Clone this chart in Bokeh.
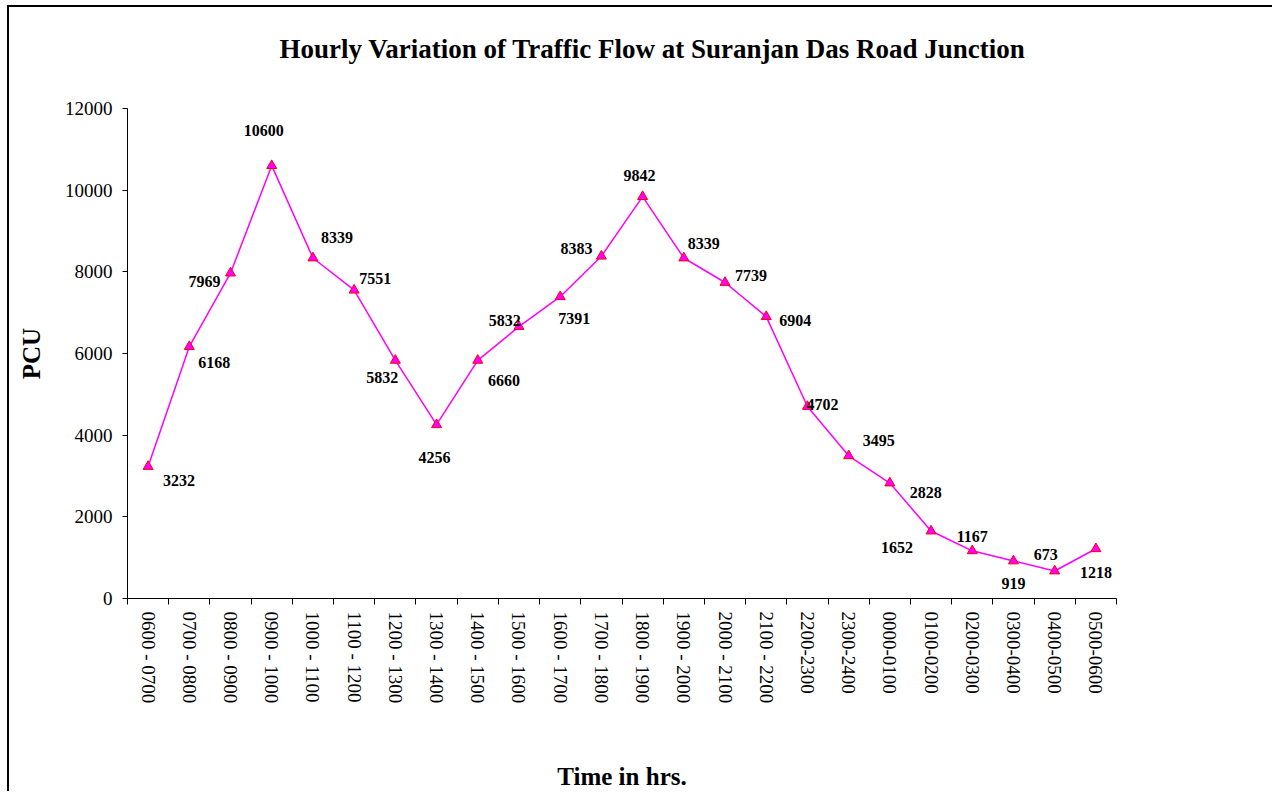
from bokeh.plotting import figure
from bokeh.models import Range1d, FixedTicker, ColumnDataSource, NumeralTickFormatter, Title
from bokeh.core.properties import value
from bokeh.embed import file_html
from bokeh.resources import INLINE
import math

# ---- data ----
categories = ["0600 - 0700", "0700 - 0800", "0800 - 0900", "0900 - 1000", "1000 - 1100",
              "1100 - 1200", "1200 - 1300", "1300 - 1400", "1400 - 1500", "1500 - 1600",
              "1600 - 1700", "1700 - 1800", "1800 - 1900", "1900 - 2000", "2000 - 2100",
              "2100 - 2200", "2200-2300", "2300-2400", "0000-0100", "0100-0200",
              "0200-0300", "0300-0400", "0400-0500", "0500-0600"]
pcu = [3232, 6168, 7969, 10600, 8339, 7551, 5832, 4256, 5832, 6660, 7391, 8383,
       9842, 8339, 7739, 6904, 4702, 3495, 2828, 1652, 1167, 919, 673, 1218]
y_ticks = [0, 2000, 4000, 6000, 8000, 10000, 12000]
title_text = "Hourly Variation of Traffic Flow at Suranjan Das Road Junction"

# label placement (screen px offsets from each point)
label_dx = [31, 25, -26, -8, 24, 21, -13, -2, 27, -15, 14, -25,
            -3, 20, 26, 29, 15, 30, 36, -34, 0, 0, -9, 0]
label_dy = [14, 16, 8, -35, -20, -12, 17, 33, -40, 54, 22, -8,
            -21, -14, -7, 4, -2, -15, 9, 16, -14, 23, -17, 24]

n = len(categories)
xs = [i + 0.5 for i in range(n)]

src = ColumnDataSource(dict(x=xs, y=pcu, txt=[str(v) for v in pcu], dx=label_dx, dy=label_dy))

SERIF = "Liberation Serif"

p = figure(width=1265, height=786, output_backend="svg", toolbar_location=None,
           x_range=Range1d(0, n), y_range=Range1d(0, 12000),
           min_border_left=118, min_border_right=158, min_border_top=101, min_border_bottom=194)
p.styles = {"border-left": "2px solid black", "border-top": "2px solid black",
            "margin-left": "7px", "margin-top": "5px"}

p.xgrid.visible = False
p.ygrid.visible = False
p.outline_line_color = None
p.background_fill_color = "white"
p.border_fill_color = "white"

# blank spacer title next to the frame, then the main title above it
spacer = Title(text=" ", text_font_size="10px", standoff=32)
main_title = Title(text=title_text, text_font=SERIF, text_font_style="bold",
                   text_font_size="27px", text_color="black", align="left",
                   offset=152, standoff=0)
p.add_layout(spacer, "above")
p.add_layout(main_title, "above")

# x axis
xa = p.xaxis[0]
xa.ticker = FixedTicker(ticks=xs, minor_ticks=list(range(n + 1)))
xa.major_label_overrides = {x: c for x, c in zip(xs, categories)}
xa.major_label_orientation = -math.pi / 2
xa.major_tick_line_color = None
xa.major_tick_out = 6
xa.major_tick_in = 0
xa.minor_tick_line_color = "black"
xa.minor_tick_out = 6
xa.minor_tick_in = 0
xa.major_label_standoff = 7
xa.major_label_text_font = SERIF
xa.major_label_text_font_size = "19px"
xa.major_label_text_color = "black"
xa.axis_line_color = "black"
xa.axis_label = "Time in hrs."
xa.axis_label_text_font = SERIF
xa.axis_label_text_font_style = "bold"
xa.axis_label_text_font_size = "25px"
xa.axis_label_text_color = "black"
xa.axis_label_standoff = 57

# y axis
ya = p.yaxis[0]
ya.ticker = FixedTicker(ticks=y_ticks)
ya.formatter = NumeralTickFormatter(format="0")
ya.minor_tick_line_color = None
ya.major_tick_out = 5
ya.major_tick_in = 0
ya.major_tick_line_color = "black"
ya.major_label_standoff = 10
ya.major_label_text_font = SERIF
ya.major_label_text_font_size = "19px"
ya.major_label_text_color = "black"
ya.axis_line_color = "black"
ya.axis_label = "PCU"
ya.axis_label_text_font = SERIF
ya.axis_label_text_font_style = "bold"
ya.axis_label_text_font_size = "25px"
ya.axis_label_text_color = "black"
ya.axis_label_standoff = 17

p.line(x="x", y="y", source=src, line_color="#FF00FF", line_width=1.5)
p.scatter(x="x", y="y", source=src, marker="triangle", size=10,
          fill_color="#FF00FF", line_color="#FF0000", line_width=1)
p.text(x="x", y="y", text="txt", source=src, x_offset="dx", y_offset="dy",
       text_align="center", text_baseline="middle", text_font=value(SERIF),
       text_font_style="bold", text_font_size="16px", text_color="black")

open("out.html", "w").write(file_html(p, INLINE))
